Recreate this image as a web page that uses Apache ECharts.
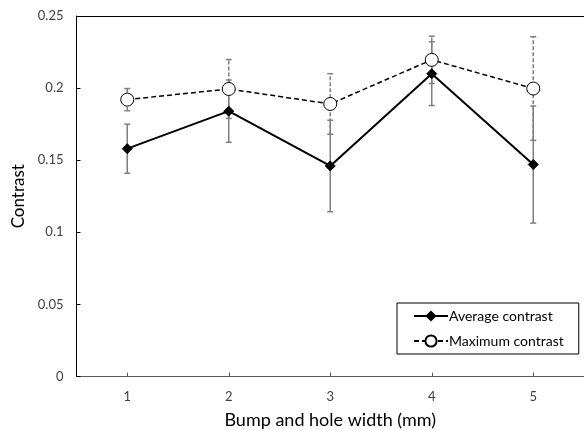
<!DOCTYPE html>
<html>
<head>
<meta charset="utf-8">
<script src="https://cdn.jsdelivr.net/npm/echarts@6/dist/echarts.min.js"></script>
<style>html,body{margin:0;padding:0;background:#fff}#c{width:584px;height:430px}</style>
</head>
<body>
<div id="c"></div>
<script>
var categories = ['1', '2', '3', '4', '5'];
var avgValues = [0.158, 0.184, 0.146, 0.210, 0.147];
var avgErrors = [0.017, 0.0216, 0.0317, 0.0221, 0.0406];
var maxValues = [0.192, 0.1994, 0.189, 0.2196, 0.1997];
var maxErrors = [0.0077, 0.0204, 0.021, 0.0164, 0.0359];
var yTicks = [0, 0.05, 0.1, 0.15, 0.2, 0.25];

var FONT = 'Lato';

function errData(vals, errs) {
  return vals.map(function (v, i) { return [i, v - errs[i], v + errs[i]]; });
}
function errRender(dash) {
  return function (params, api) {
    var x = api.value(0);
    var lo = api.coord([x, api.value(1)]);
    var hi = api.coord([x, api.value(2)]);
    var hw = 3;
    var st = { stroke: '#7f7f7f', lineWidth: 1.5, lineDash: dash };
    var cs = { stroke: '#7f7f7f', lineWidth: 1.5 };
    return {
      type: 'group',
      children: [
        { type: 'line', shape: { x1: lo[0], y1: lo[1], x2: hi[0], y2: hi[1] }, style: st },
        { type: 'line', shape: { x1: lo[0] - hw, y1: lo[1], x2: lo[0] + hw, y2: lo[1] }, style: cs },
        { type: 'line', shape: { x1: hi[0] - hw, y1: hi[1], x2: hi[0] + hw, y2: hi[1] }, style: cs }
      ]
    };
  };
}

var chart = echarts.init(document.getElementById('c'), null, { renderer: 'canvas' });
chart.setOption({
  animation: false,
  backgroundColor: '#fff',
  textStyle: { fontFamily: FONT },
  grid: { left: 76.5, right: 0, top: 16, bottom: 53.5, containLabel: false, outerBoundsMode: 'none' },
  legend: {
    orient: 'vertical',
    left: 397, top: 303,
    padding: [6, 15, 6, 16],
    itemGap: 11,
    itemWidth: 34, itemHeight: 14,
    backgroundColor: '#fff',
    borderColor: '#000', borderWidth: 1,
    textStyle: { fontFamily: FONT, fontSize: 14, color: '#000', padding: [0, 0, 0, -4] },
    data: ['Average contrast', 'Maximum contrast']
  },
  xAxis: [{
    type: 'category',
    data: categories,
    boundaryGap: true,
    name: 'Bump and hole width (mm)',
    nameLocation: 'middle',
    nameGap: 35,
    nameTextStyle: { fontFamily: FONT, fontSize: 18, color: '#000' },
    axisLine: { lineStyle: { color: '#595959', width: 1 } },
    axisTick: { show: true, alignWithLabel: true, inside: true, length: 4, lineStyle: { color: '#595959' } },
    axisLabel: { fontFamily: FONT, fontSize: 13, color: '#404040', margin: 14 },
    splitLine: { show: false }
  }, {
    type: 'category',
    position: 'top',
    data: categories,
    axisLine: { lineStyle: { color: '#000', width: 1 } },
    axisTick: { show: false },
    axisLabel: { show: false }
  }],
  yAxis: {
    type: 'value',
    min: 0, max: 0.25, interval: 0.05,
    name: 'Contrast',
    nameLocation: 'middle',
    nameGap: 41,
    nameRotate: 90,
    nameTextStyle: { fontFamily: FONT, fontSize: 17, color: '#000' },
    axisLine: { show: true, lineStyle: { color: '#000', width: 1 } },
    axisTick: { show: true, inside: true, length: 4, lineStyle: { color: '#000' } },
    axisLabel: {
      fontFamily: FONT, fontSize: 13, color: '#404040', margin: 13,
      formatter: function (v) {
        for (var i = 0; i < yTicks.length; i++) if (Math.abs(yTicks[i] - v) < 1e-9) return String(yTicks[i]);
        return '';
      }
    },
    splitLine: { show: false }
  },
  series: [
    {
      type: 'custom', name: 'avgErr', z: 1,
      renderItem: errRender(null),
      encode: { x: 0, y: [1, 2] },
      data: errData(avgValues, avgErrors),
      silent: true
    },
    {
      type: 'custom', name: 'maxErr', z: 1,
      renderItem: errRender([4, 2]),
      encode: { x: 0, y: [1, 2] },
      data: errData(maxValues, maxErrors),
      silent: true
    },
    {
      type: 'line', name: 'Average contrast', z: 3,
      data: avgValues,
      symbol: 'diamond', symbolSize: 10,
      lineStyle: { color: '#000', width: 2 },
      itemStyle: { color: '#000', borderColor: '#000' }
    },
    {
      type: 'line', name: 'Maximum contrast', z: 3,
      data: maxValues,
      symbol: 'circle', symbolSize: 13,
      lineStyle: { color: '#000', width: 1.5, type: [5, 3] },
      itemStyle: { color: '#fff', borderColor: '#000', borderWidth: 1 }
    }
  ]
});
</script>
</body>
</html>
